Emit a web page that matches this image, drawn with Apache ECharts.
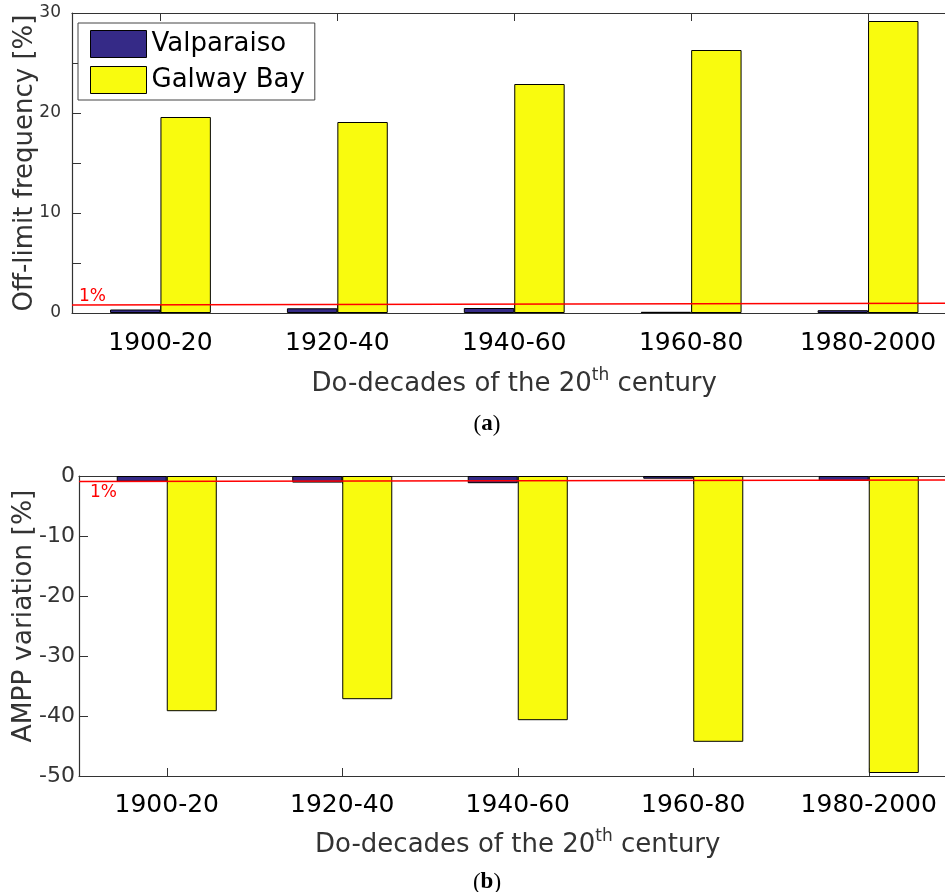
<!DOCTYPE html>
<html>
<head>
<meta charset="utf-8">
<script src="https://cdn.jsdelivr.net/npm/echarts@6/dist/echarts.min.js"></script>
<style>
html,body{margin:0;padding:0;background:#fff;}
#chart{width:945px;height:892px;}
</style>
</head>
<body>
<div id="chart"></div>
<script>
const categories = ['1900-20', '1920-40', '1940-60', '1960-80', '1980-2000'];
const offLimitValparaiso = [0.35, 0.47, 0.5, 0.12, 0.28];
const offLimitGalway = [19.6, 19.1, 22.9, 26.3, 29.2];
const amppValparaiso = [-0.95, -1.1, -1.2, -0.45, -0.83];
const amppGalway = [-39.2, -37.2, -40.7, -44.3, -49.5];
const thresholdTop = [[0, 0.8], [1, 0.97]];
const thresholdBottom = [[0, -0.9], [1, -0.66]];
const thresholdLabel = '1%';
const seriesNames = ['Valparaiso', 'Galway Bay'];
const yNameTop = 'Off-limit frequency [%]';
const yNameBottom = 'AMPP variation [%]';
const xNameParts = ['Do-decades of the 20', 'th', ' century'];
const panelLabels = ['a', 'b'];

const FONT = 'DejaVu Sans';
const colDark = '#352a87';
const colYellow = '#f9fb0e';
const axisCol = '#333';

const chart = echarts.init(document.getElementById('chart'), null, {renderer: 'canvas'});

function xName() {
  return '{a|' + xNameParts[0] + '}{s|' + xNameParts[1] + '}{a|' + xNameParts[2] + '}';
}
const xNameRich = {
  a: {fontSize: 26, fontFamily: FONT, color: axisCol, lineHeight: 30, verticalAlign: 'bottom'},
  s: {fontSize: 17, fontFamily: FONT, color: axisCol, lineHeight: 30, verticalAlign: 'top', padding: [0, 0, 16, 0]}
};

function catAxis(gridIndex, nameGap, labelMargin) {
  return {
    type: 'category', gridIndex: gridIndex, data: categories, position: 'bottom',
    boundaryGap: true,
    axisLine: {show: true, onZero: false, lineStyle: {color: axisCol, width: 1.2}},
    axisTick: {show: true, inside: true, alignWithLabel: true, length: 8, lineStyle: {color: axisCol}},
    axisLabel: {fontSize: 25, fontFamily: FONT, color: '#000', margin: labelMargin, interval: 0},
    name: xName(), nameLocation: 'middle', nameGap: nameGap,
    nameTextStyle: {rich: xNameRich}
  };
}
function boxAxis(gridIndex) {
  return {
    type: 'category', gridIndex: gridIndex, data: categories, position: 'top',
    axisLine: {show: true, onZero: false, lineStyle: {color: axisCol, width: 1.2}},
    axisTick: {show: true, inside: true, alignWithLabel: true, length: 8, lineStyle: {color: axisCol}},
    axisLabel: {show: false}
  };
}
function hiddenValAxis(gridIndex) {
  return {type: 'value', gridIndex: gridIndex, min: 0, max: 1, show: false, position: 'bottom'};
}
const panelRich = {
  p: {fontFamily: 'Liberation Serif', fontSize: 23, fontWeight: 'normal', color: '#000'},
  b: {fontFamily: 'Liberation Serif', fontSize: 23, fontWeight: 'bold', color: '#000'}
};

const option = {
  animation: false,
  backgroundColor: '#fff',
  textStyle: {fontFamily: FONT},
  grid: [
    {left: 72, top: 13, width: 884.5, height: 300, containLabel: false, outerBoundsMode: 'none'},
    {left: 79, top: 476, width: 877.5, height: 300, containLabel: false, outerBoundsMode: 'none'}
  ],
  title: [
    {text: '{p|(}{b|' + panelLabels[0] + '}{p|)}', left: 482, top: 408, textAlign: 'center',
     textStyle: {rich: panelRich}},
    {text: '{p|(}{b|' + panelLabels[1] + '}{p|)}', left: 482, top: 866, textAlign: 'center',
     textStyle: {rich: panelRich}}
  ],
  legend: {
    data: seriesNames, orient: 'vertical', left: 78, top: 23,
    padding: [7, 10, 6, 12], itemGap: 8, itemWidth: 56, itemHeight: 27,
    icon: 'rect', backgroundColor: '#fff', borderColor: '#444', borderWidth: 1,
    textStyle: {fontSize: 26, fontFamily: FONT, color: '#000', lineHeight: 27},
    itemStyle: {borderColor: '#000', borderWidth: 1},
    z: 20
  },
  xAxis: [
    catAxis(0, 54, 18),
    catAxis(1, 52, 17),
    hiddenValAxis(0),
    hiddenValAxis(1),
    boxAxis(0),
    boxAxis(1)
  ],
  yAxis: [
    {type: 'value', gridIndex: 0, min: 0, max: 30, interval: 5,
     axisLine: {show: true, lineStyle: {color: axisCol, width: 1.2}},
     axisTick: {show: true, inside: true, length: 9, lineStyle: {color: axisCol}},
     splitLine: {show: false},
     axisLabel: {fontSize: 17, fontFamily: FONT, color: axisCol, margin: 11,
       formatter: function (v) { return v % 10 === 0 ? String(v) : ''; }},
     name: yNameTop, nameLocation: 'middle', nameGap: 34, nameMoveOverlap: false,
     nameTextStyle: {fontSize: 26, fontFamily: FONT, color: axisCol}},
    {type: 'value', gridIndex: 1, min: -50, max: 0, interval: 10,
     axisLine: {show: true, onZero: false, lineStyle: {color: axisCol, width: 1.2}},
     axisTick: {show: true, inside: true, length: 9, lineStyle: {color: axisCol}},
     splitLine: {show: false},
     axisLabel: {fontSize: 22, fontFamily: FONT, color: axisCol, margin: 4},
     name: yNameBottom, nameLocation: 'middle', nameGap: 41, nameMoveOverlap: false,
     nameTextStyle: {fontSize: 26.5, fontFamily: FONT, color: axisCol, padding: [0, 0, 0, 20]}}
  ],
  series: [
    {name: seriesNames[0], type: 'bar', xAxisIndex: 0, yAxisIndex: 0, data: offLimitValparaiso,
     barGap: '0%', barCategoryGap: '43%',
     itemStyle: {color: colDark, borderColor: '#000', borderWidth: 1}},
    {name: seriesNames[1], type: 'bar', xAxisIndex: 0, yAxisIndex: 0, data: offLimitGalway,
     barGap: '0%', barCategoryGap: '43%',
     itemStyle: {color: colYellow, borderColor: '#000', borderWidth: 1}},
    {name: seriesNames[0], type: 'bar', xAxisIndex: 1, yAxisIndex: 1, data: amppValparaiso,
     barGap: '0%', barCategoryGap: '43%',
     itemStyle: {color: colDark, borderColor: '#000', borderWidth: 1}},
    {name: seriesNames[1], type: 'bar', xAxisIndex: 1, yAxisIndex: 1, data: amppGalway,
     barGap: '0%', barCategoryGap: '43%',
     itemStyle: {color: colYellow, borderColor: '#000', borderWidth: 1}},
    {name: 'threshold-a', type: 'line', xAxisIndex: 2, yAxisIndex: 0, z: 10,
     symbol: 'circle', symbolSize: 0.1, showSymbol: true,
     lineStyle: {color: '#ff0000', width: 1.5}, itemStyle: {color: '#ff0000'},
     data: [
       {value: thresholdTop[0], label: {show: true, formatter: thresholdLabel, position: 'right',
         offset: [2, -8], fontSize: 17, fontFamily: FONT, color: '#ff0000'}},
       {value: thresholdTop[1]}
     ]},
    {name: 'threshold-b', type: 'line', xAxisIndex: 3, yAxisIndex: 1, z: 10,
     symbol: 'circle', symbolSize: 0.1, showSymbol: true,
     lineStyle: {color: '#ff0000', width: 1.5}, itemStyle: {color: '#ff0000'},
     data: [
       {value: thresholdBottom[0], label: {show: true, formatter: thresholdLabel, position: 'right',
         offset: [6, 11], fontSize: 17, fontFamily: FONT, color: '#ff0000'}},
       {value: thresholdBottom[1]}
     ]}
  ]
};
chart.setOption(option);
</script>
</body>
</html>
